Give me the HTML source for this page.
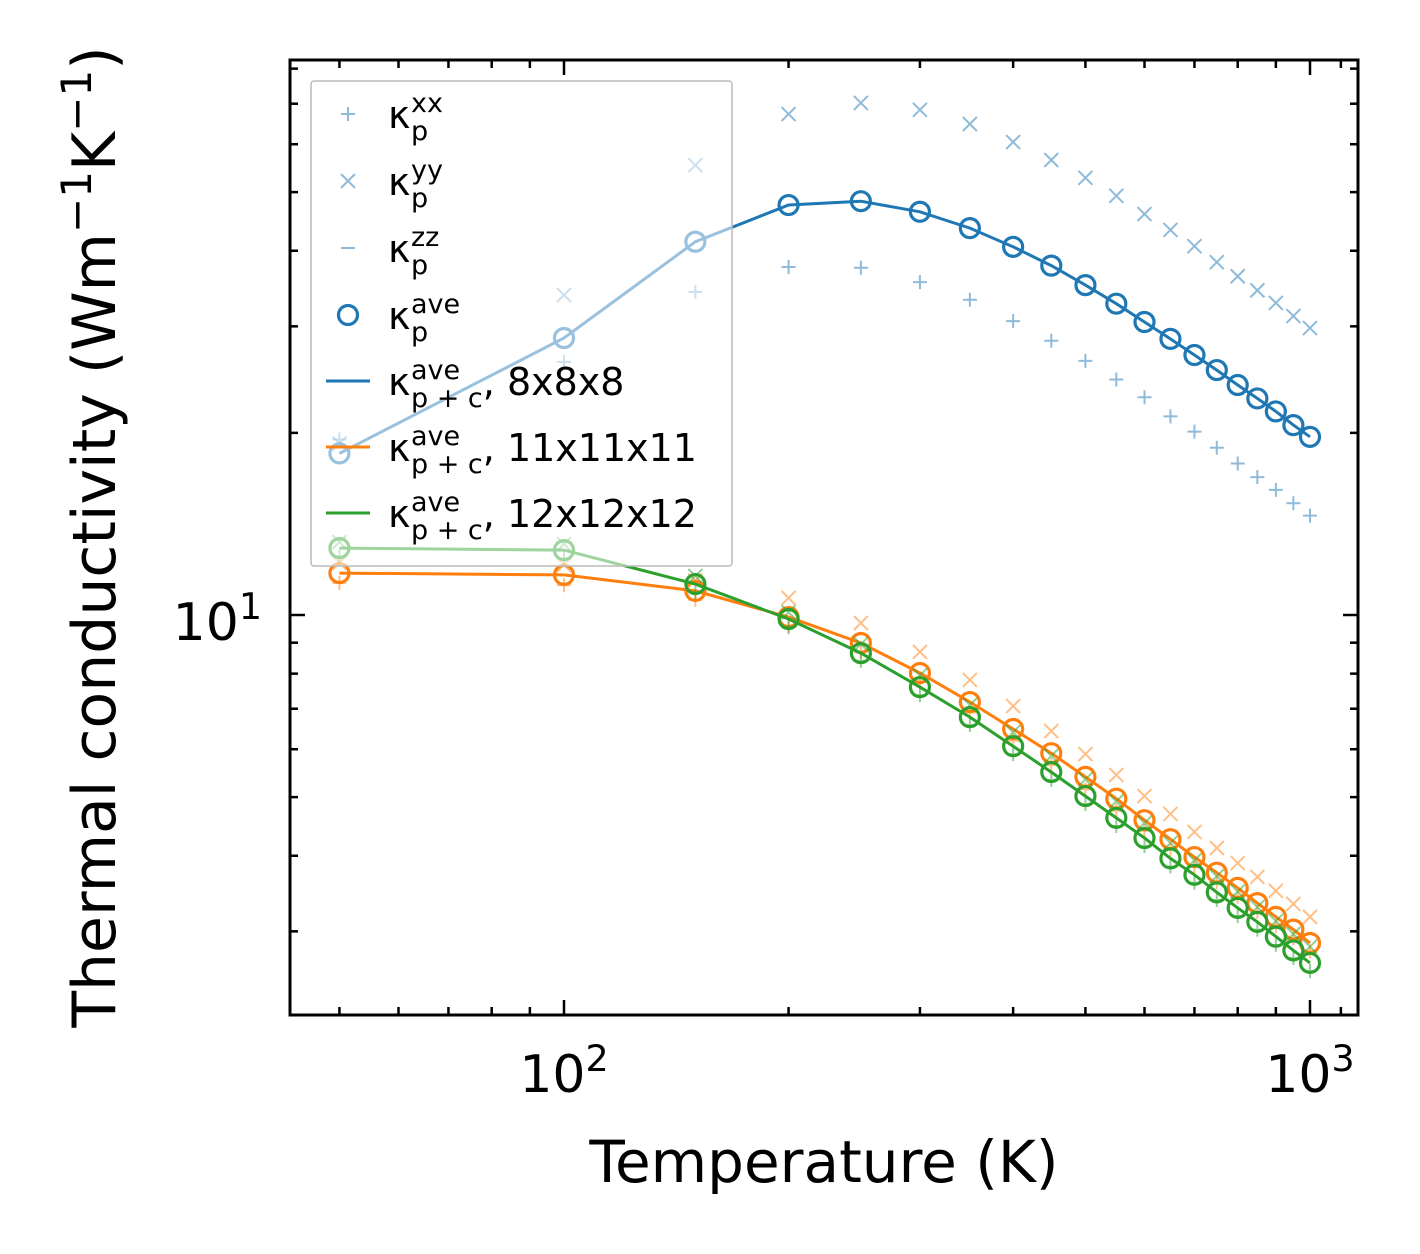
<!DOCTYPE html>
<html><head><meta charset="utf-8"><style>body{margin:0;background:#fff}svg{display:block;font-family:"DejaVu Sans","Liberation Sans",sans-serif}</style></head>
<body>
<svg id="chart" width="1420" height="1254" viewBox="0 0 1420 1254" xmlns="http://www.w3.org/2000/svg">
<g id="marks"></g>
<g id="axes"></g>
<g id="legend"></g>
</svg>
<script>
const temps=[50,100,150,200,250,300,350,400,450,500,550,600,650,700,750,800,850,900,950,1000];
const blueAve=[18.5,28.7,41.4,47.6,48.3,46.4,43.6,40.6,37.8,35.1,32.7,30.5,28.6,26.9,25.4,24.0,22.8,21.7,20.6,19.7];
const blueXX=[19.5,26.2,34.2,37.6,37.5,35.5,33.2,30.6,28.4,26.3,24.5,22.9,21.3,20.1,18.9,17.8,16.9,16.1,15.3,14.6];
const blueYY=[19.2,33.8,55.4,67.3,70.2,68.4,64.8,60.5,56.5,52.8,49.3,46.0,43.3,40.7,38.3,36.3,34.4,32.8,31.2,29.8];
const orangeAve=[11.73,11.65,10.96,9.92,8.99,8.02,7.18,6.48,5.91,5.40,4.97,4.58,4.26,3.98,3.75,3.54,3.34,3.17,3.02,2.87];
const orangeXX=[11.3,11.2,10.6,9.6,8.7,7.75,6.9,6.2,5.65,5.15,4.75,4.4,4.1,3.84,3.62,3.42,3.23,3.06,2.92,2.78];
const orangeYY=[12.2,12.1,11.4,10.67,9.70,8.69,7.81,7.07,6.43,5.89,5.44,5.02,4.69,4.38,4.12,3.89,3.69,3.50,3.33,3.17];
const greenAve=[12.9,12.8,11.25,9.85,8.65,7.60,6.78,6.07,5.50,5.02,4.62,4.28,3.96,3.72,3.48,3.28,3.11,2.94,2.79,2.66];
const greenXX=[12.5,12.4,10.9,9.55,8.4,7.37,6.58,5.89,5.34,4.87,4.48,4.15,3.84,3.61,3.38,3.18,3.02,2.85,2.71,2.58];
const greenYY=[13.2,13.1,11.6,10.1,8.95,7.95,7.1,6.4,5.85,5.35,4.92,4.53,4.2,3.93,3.7,3.49,3.29,3.12,2.97,2.83];

const NS="http://www.w3.org/2000/svg";
const X0=290,X1=1358,Y0=60,Y1=1015;
function sx(v){return 564+(Math.log10(v)-2)*746;}
function sy(v){return 615-(Math.log10(v)-1)*605;}
function mk(tag,attrs,parent){const e=document.createElementNS(NS,tag);for(const k in attrs)e.setAttribute(k,attrs[k]);parent.appendChild(e);return e;}
const marks=document.getElementById('marks');
const axes=document.getElementById('axes');
const legend=document.getElementById('legend');

function plus(g,x,y,c,op){return mk('path',{d:`M${x-7},${y}H${x+7}M${x},${y-7}V${y+7}`,stroke:c,'stroke-width':2,opacity:op,fill:'none'},g);}
function cross(g,x,y,c,op){return mk('path',{d:`M${x-7},${y-7}L${x+7},${y+7}M${x-7},${y+7}L${x+7},${y-7}`,stroke:c,'stroke-width':2,opacity:op,fill:'none'},g);}
function circ(g,x,y,c){return mk('circle',{cx:x,cy:y,r:9.5,stroke:c,'stroke-width':3.2,fill:'none'},g);}

const series=[
 {name:'8x8x8',c:'#1f77b4',ave:blueAve,xx:blueXX,yy:blueYY},
 {name:'11x11x11',c:'#ff7f0e',ave:orangeAve,xx:orangeXX,yy:orangeYY},
 {name:'12x12x12',c:'#2ca02c',ave:greenAve,xx:greenXX,yy:greenYY}
];
series.forEach(s=>{
  const g=mk('g',{},marks);
  
  
  s.xx.forEach((v,i)=>{const p=plus(g,sx(temps[i]),sy(v),s.c,0.5);
    
    });
  s.yy.forEach((v,i)=>{const p=cross(g,sx(temps[i]),sy(v),s.c,0.5);
    
    });
  const d=s.ave.map((v,i)=>(i?'L':'M')+sx(temps[i]).toFixed(1)+','+sy(v).toFixed(1)).join('');
  const l=mk('path',{d:d,stroke:s.c,'stroke-width':3,fill:'none'},g);
  
  
  s.ave.forEach((v,i)=>{const c=circ(g,sx(temps[i]),sy(v),s.c);
    
    });
});

mk('rect',{x:X0,y:Y0,width:X1-X0,height:Y1-Y0,fill:'none',stroke:'#000','stroke-width':3},axes);
function tickX(v,len){const x=sx(v);mk('line',{x1:x,x2:x,y1:Y1,y2:Y1-len,stroke:'#000','stroke-width':2.5},axes);mk('line',{x1:x,x2:x,y1:Y0,y2:Y0+len,stroke:'#000','stroke-width':2.5},axes);}
function tickY(v,len){const y=sy(v);mk('line',{x1:X0,x2:X0+len,y1:y,y2:y,stroke:'#000','stroke-width':2.5},axes);mk('line',{x1:X1,x2:X1-len,y1:y,y2:y,stroke:'#000','stroke-width':2.5},axes);}
[50,60,70,80,90,200,300,400,500,600,700,800,900,1100].forEach(v=>tickX(v,8));
[100,1000].forEach(v=>tickX(v,15));
[3,4,5,6,7,8,9,20,30,40,50,60,70,80].forEach(v=>tickY(v,8));
tickY(10,15);
function sup(parent,x,y,base,exp,anchor,fs){const t=mk('text',{x:x,y:y,'font-size':fs,'text-anchor':anchor},parent);const a=mk('tspan',{},t);a.textContent=base;const b=mk('tspan',{dy:-fs*0.4,'font-size':fs*0.7},t);b.textContent=exp;return t;}
const xt=[{v:100,e:'2'},{v:1000,e:'3'}];
xt.forEach(o=>{const t=sup(axes,sx(o.v),1092,'10',o.e,'middle',52);
  
  });
const yt=sup(axes,262,640,'10','1','end',52);


const xl=mk('text',{x:824,y:1182,'font-size':58,'text-anchor':'middle'},axes);xl.textContent='Temperature (K)';


const yl=mk('text',{x:0,y:0,'font-size':60,'text-anchor':'middle',transform:'translate(115,537) rotate(-90)'},axes);
yl.innerHTML='Thermal conductivity (Wm<tspan dy="-24" font-size="42">−1</tspan><tspan dy="24">K</tspan><tspan dy="-24" font-size="42">−1</tspan><tspan dy="24">)</tspan>';



mk('rect',{x:311,y:81,width:421,height:485,rx:3,fill:'rgba(255,255,255,0.55)',stroke:'#bbb','stroke-width':1.5},legend);
const rows=[
 {y:114,m:'plus',c:'#1f77b4',sup:'xx',sub:'p',tail:''},
 {y:181,m:'cross',c:'#1f77b4',sup:'yy',sub:'p',tail:''},
 {y:248,m:'dash',c:'#1f77b4',sup:'zz',sub:'p',tail:''},
 {y:315,m:'circ',c:'#1f77b4',sup:'ave',sub:'p',tail:''},
 {y:381,m:'line',c:'#1f77b4',sup:'ave',sub:'p + c',tail:', 8x8x8'},
 {y:447,m:'line',c:'#ff7f0e',sup:'ave',sub:'p + c',tail:', 11x11x11'},
 {y:513,m:'line',c:'#2ca02c',sup:'ave',sub:'p + c',tail:', 12x12x12'}
];
rows.forEach(r=>{
  const g=mk('g',{},legend);
  
  
  const x=348,y=r.y;
  if(r.m==='plus')plus(g,x,y,r.c,0.5);
  else if(r.m==='cross')cross(g,x,y,r.c,0.5);
  else if(r.m==='dash')mk('line',{x1:x-7,x2:x+7,y1:y,y2:y,stroke:r.c,'stroke-width':2,opacity:0.5},g);
  else if(r.m==='circ')circ(g,x,y,r.c);
  else mk('line',{x1:326,x2:370,y1:y,y2:y,stroke:r.c,'stroke-width':3},g);
  const t=mk('text',{x:388,y:y+14,'font-size':38},g);
  t.innerHTML=`κ<tspan font-size="27" x="411" dy="-16">${r.sup}</tspan><tspan font-size="27" x="411" dy="28">${r.sub}</tspan>`+(r.tail?`<tspan dy="-12">${r.tail}</tspan>`:'');
});
</script>
</body></html>
